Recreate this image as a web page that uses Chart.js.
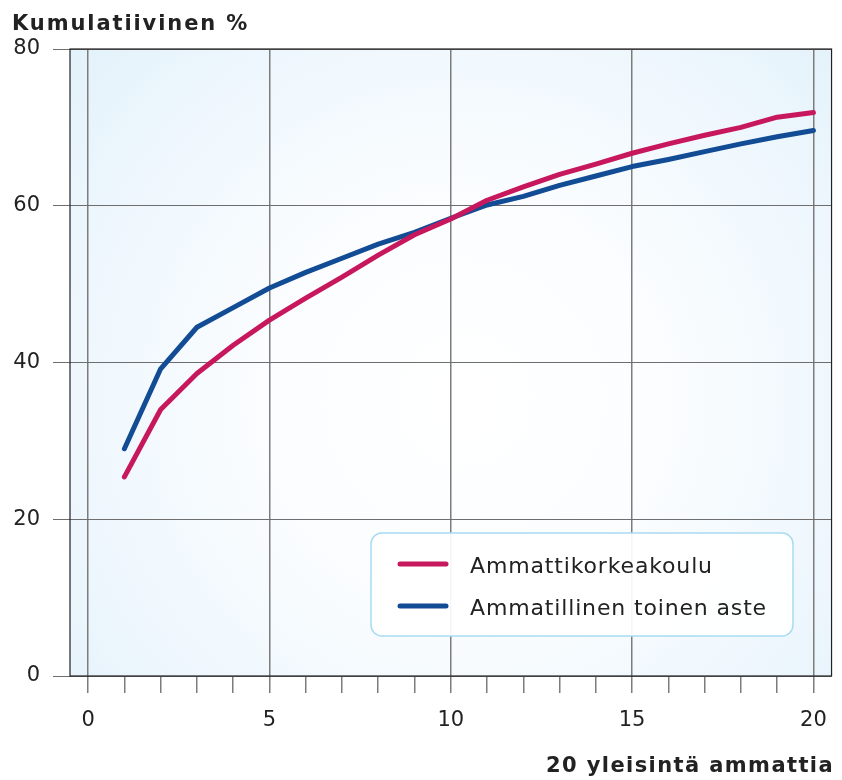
<!DOCTYPE html>
<html>
<head>
<meta charset="utf-8">
<script src="https://cdn.jsdelivr.net/npm/chart.js@4/dist/chart.umd.min.js"></script>
<style>
  body { margin: 0; background: #fff; }
  #wrap { width: 842px; height: 780px; position: relative; }
</style>
</head>
<body>
<div id="wrap"><canvas id="myChart"></canvas></div>
<script>
// occupations ranked 1..20
const ranks = [1, 2, 3, 4, 5, 6, 7, 8, 9, 10, 11, 12, 13, 14, 15, 16, 17, 18, 19, 20];
const amk = [25.4, 34.0, 38.6, 42.2, 45.4, 48.2, 50.9, 53.7, 56.3, 58.3, 60.7, 62.4, 64.0, 65.3, 66.7, 67.9, 69.0, 70.0, 71.3, 71.9];
const toinenAste = [29.0, 39.2, 44.5, 47.0, 49.5, 51.5, 53.3, 55.1, 56.6, 58.4, 60.1, 61.2, 62.6, 63.8, 65.0, 65.9, 66.9, 67.9, 68.8, 69.6];
const seriesNames = ['Ammattikorkeakoulu', 'Ammatillinen toinen aste'];
const yTicks = [0, 20, 40, 60, 80];
const xLabelled = [0, 5, 10, 15, 20];
const yTitle = 'Kumulatiivinen %';
const xTitle = '20 yleisintä ammattia';

const RED = '#c8185d';
const BLUE = '#124c94';
const FONT = '"DejaVu Sans", sans-serif';

const backdrop = {
    id: 'backdrop',
    beforeDraw(chart) {
        const { ctx, chartArea: a } = chart;
        ctx.save();
        const g = ctx.createRadialGradient(465, 400, 0, 465, 400, 560);
        g.addColorStop(0, '#ffffff');
        g.addColorStop(0.35, '#fbfdff');
        g.addColorStop(0.7, '#eef7fd');
        g.addColorStop(1, '#e0f0fa');
        ctx.fillStyle = g;
        ctx.fillRect(a.left, a.top, a.right - a.left, a.bottom - a.top);
        ctx.restore();
    },
    beforeDatasetsDraw(chart) {
        const { ctx, chartArea: a } = chart;
        ctx.save();
        ctx.strokeStyle = '#222';
        ctx.lineWidth = 1.2;
        ctx.strokeRect(a.left, a.top, a.right - a.left, a.bottom - a.top);
        ctx.restore();
    },
    afterDatasetsDraw(chart) {
        const ctx = chart.ctx;
        ctx.save();
        // legend box
        ctx.beginPath();
        ctx.roundRect(371, 533, 422, 103, 11);
        ctx.fillStyle = 'rgba(255,255,255,0.92)';
        ctx.fill();
        ctx.strokeStyle = '#a8dbf1';
        ctx.lineWidth = 1.5;
        ctx.stroke();
        const rows = [564, 606];
        chart.data.datasets.forEach((ds, i) => {
            ctx.beginPath();
            ctx.moveTo(400, rows[i]);
            ctx.lineTo(446, rows[i]);
            ctx.strokeStyle = ds.borderColor;
            ctx.lineWidth = 5;
            ctx.lineCap = 'round';
            ctx.stroke();
            ctx.fillStyle = '#222';
            ctx.font = '22px ' + FONT;
            ctx.letterSpacing = '0.85px';
            ctx.textAlign = 'left';
            ctx.textBaseline = 'alphabetic';
            ctx.fillText(ds.label, 470, rows[i] + 9);
        });
        // axis titles
        ctx.font = 'bold 21px ' + FONT;
        ctx.letterSpacing = '1.9px';
        ctx.fillStyle = '#222';
        ctx.textAlign = 'left';
        ctx.fillText(yTitle, 12, 30);
        ctx.textAlign = 'right';
        ctx.letterSpacing = '1.4px';
        ctx.fillText(xTitle, 834, 772);
        ctx.restore();
    }
};

new Chart(document.getElementById('myChart'), {
    type: 'line',
    data: {
        datasets: [
            {
                label: seriesNames[0],
                data: ranks.map((r, i) => ({ x: r, y: amk[i] })),
                borderColor: RED,
            },
            {
                label: seriesNames[1],
                data: ranks.map((r, i) => ({ x: r, y: toinenAste[i] })),
                borderColor: BLUE,
            }
        ]
    },
    options: {
        responsive: true,
        maintainAspectRatio: false,
        animation: false,
        layout: { padding: { top: 49, right: 9, left: 0, bottom: 0 } },
        elements: {
            line: { borderWidth: 5, borderCapStyle: 'round', borderJoinStyle: 'round', tension: 0 },
            point: { radius: 0 }
        },
        plugins: {
            legend: { display: false },
            tooltip: { enabled: false }
        },
        scales: {
            x: {
                type: 'linear',
                min: -0.5,
                max: 20.5,
                afterBuildTicks(scale) {
                    scale.ticks = ranks.concat([0]).sort((a, b) => a - b).map(v => ({ value: v }));
                },
                afterFit(scale) { scale.height = 104; },
                ticks: {
                    autoSkip: false,
                    maxRotation: 0,
                    color: '#222',
                    padding: 15,
                    font: { family: FONT, size: 21 },
                    callback: v => (xLabelled.includes(v) ? String(v) : '')
                },
                grid: {
                    color: c => (xLabelled.includes(c.tick.value) ? '#7c7c7c' : 'rgba(0,0,0,0)'),
                    tickColor: '#7c7c7c',
                    lineWidth: 1.5,
                    tickLength: 17
                },
                border: { display: false }
            },
            y: {
                min: 0,
                max: 80,
                afterBuildTicks(scale) {
                    scale.ticks = yTicks.map(v => ({ value: v }));
                },
                afterFit(scale) { scale.width = 70; },
                ticks: {
                    color: '#222',
                    padding: 13,
                    font: { family: FONT, size: 21 }
                },
                grid: {
                    color: '#6e6e6e',
                    lineWidth: 1,
                    tickLength: 17
                },
                border: { display: false }
            }
        }
    },
    plugins: [backdrop]
});
</script>
</body>
</html>
